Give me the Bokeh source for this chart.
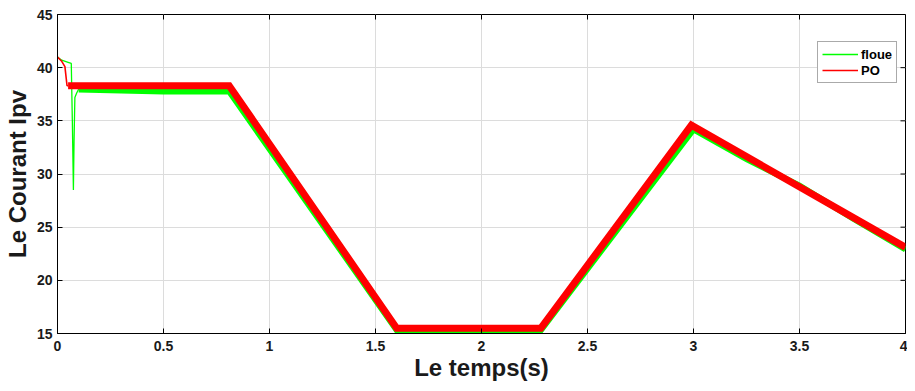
import math
from bokeh.plotting import figure
from bokeh.models import Range1d, Legend, LegendItem, FixedTicker
from bokeh.embed import file_html
from bokeh.resources import INLINE

# ---- data ----
# floue (fuzzy) controller: start-up transient, then steady tracking
t_floue_start = [0.0, 0.02, 0.05, 0.065, 0.07, 0.075, 0.078, 0.082, 0.09, 0.1]
i_floue_start = [41.0, 40.7, 40.5, 40.4, 35.0, 28.5, 33.0, 37.2, 37.6, 38.0]
t_floue = [0.1, 0.3, 0.5, 0.81, 1.6, 2.28, 3.0, 3.25, 3.5, 3.75, 4.0]
i_floue = [37.95, 37.85, 37.75, 37.75, 15.3, 15.3, 34.2, 31.4, 28.9, 25.85, 22.9]

# PO controller
t_po_start = [0.0, 0.02, 0.035, 0.045, 0.05]
i_po_start = [41.0, 40.6, 40.1, 38.3, 38.3]
t_po = [0.05, 0.81, 1.6, 2.28, 2.99, 4.0]
i_po = [38.3, 38.3, 15.5, 15.5, 34.6, 23.1]

x_ticks = [0, 0.5, 1, 1.5, 2, 2.5, 3, 3.5, 4]
y_ticks = [15, 20, 25, 30, 35, 40, 45]
x_tick_labels = {0: "0", 0.5: "0.5", 1: "1", 1.5: "1.5", 2: "2", 2.5: "2.5", 3: "3", 3.5: "3.5", 4: "4"}

GREEN = "#00ff00"
RED = "#ff0000"
FONT = "Liberation Sans"

p = figure(width=907, height=383, output_backend="svg", toolbar_location=None,
           x_range=Range1d(x_ticks[0], x_ticks[-1]), y_range=Range1d(y_ticks[0], y_ticks[-1]),
           min_border_left=56, min_border_right=2, min_border_top=14, min_border_bottom=50,
           background_fill_color="white", border_fill_color="white")
p.outline_line_color = "black"
p.outline_line_width = 1

for ax in (p.xaxis[0], p.yaxis[0]):
    ax.major_label_text_font = FONT
    ax.major_label_text_font_style = "bold"
    ax.major_label_text_font_size = "14px"
    ax.major_label_text_color = "#1a1a1a"
    ax.axis_label_text_font = FONT
    ax.axis_label_text_font_style = "bold"
    ax.axis_label_text_font_size = "24px"
    ax.axis_label_text_color = "#1a1a1a"
    ax.major_tick_in = 5
    ax.major_tick_out = 0
    ax.minor_tick_in = 0
    ax.minor_tick_out = 0
    ax.axis_line_color = "black"
    ax.major_tick_line_color = "black"

p.xaxis[0].ticker = FixedTicker(ticks=x_ticks)
p.yaxis[0].ticker = FixedTicker(ticks=y_ticks)
p.xaxis[0].major_label_overrides = x_tick_labels
p.xaxis[0].axis_label = "Le temps(s)"
p.yaxis[0].axis_label = "Le Courant Ipv"
p.xaxis[0].major_label_standoff = 7
p.xaxis[0].axis_label_standoff = 0
p.yaxis[0].major_label_standoff = 5
p.yaxis[0].axis_label_standoff = 3

# inward ticks on the top and right edges of the box
p.ray(x=x_ticks, y=[y_ticks[-1]] * len(x_ticks), length=5, length_units="screen",
      angle=-math.pi / 2, line_color="black", line_width=1)
p.ray(x=[x_ticks[-1]] * len(y_ticks), y=y_ticks, length=5, length_units="screen",
      angle=math.pi, line_color="black", line_width=1)

p.xgrid.ticker = FixedTicker(ticks=x_ticks)
p.ygrid.ticker = FixedTicker(ticks=y_ticks)
p.grid.grid_line_color = "#dcdcdc"
p.grid.grid_line_width = 1

# transients (thin) and noisy tracking bands (thick)
g_thin = p.line(t_floue_start, i_floue_start, line_color=GREEN, line_width=1.3)
g_band = p.line(t_floue, i_floue, line_color=GREEN, line_width=6, line_join="miter")
r_thin = p.line(t_po_start, i_po_start, line_color=RED, line_width=1.6)
r_band = p.line(t_po, i_po, line_color=RED, line_width=7, line_join="miter")

g_leg = p.line([0], [0], line_color=GREEN, line_width=1.3, visible=False)
r_leg = p.line([0], [0], line_color=RED, line_width=1.6, visible=False)

legend = Legend(items=[LegendItem(label="floue", renderers=[g_leg]),
                       LegendItem(label="PO", renderers=[r_leg])],
                location=(760, 250), orientation="vertical")
legend.label_text_font = FONT
legend.label_text_font_style = "bold"
legend.label_text_font_size = "13px"
legend.label_text_color = "black"
legend.glyph_width = 36
legend.glyph_height = 16
legend.label_height = 16
legend.label_standoff = 3
legend.spacing = 0
legend.padding = 4
legend.margin = 0
legend.border_line_color = "#555555"
legend.border_line_width = 1
legend.background_fill_color = "white"
legend.background_fill_alpha = 1
p.add_layout(legend, "center")

open("out.html", "w").write(file_html(p, INLINE))
